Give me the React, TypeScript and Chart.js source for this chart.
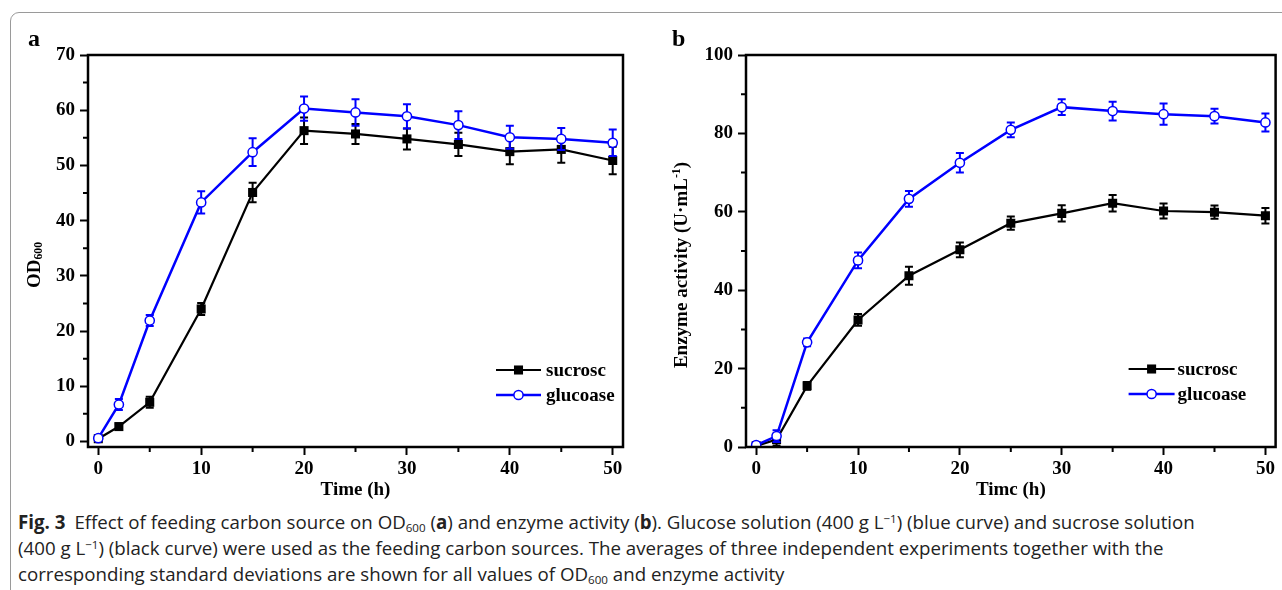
import React, { useEffect, useRef } from 'react';
import { Chart, registerables } from 'chart.js';

Chart.register(...registerables);

// ---------- data ----------
const TIME_H = [0, 2, 5, 10, 15, 20, 25, 30, 35, 40, 45, 50];

const OD_SUCROSE = [0.5, 2.7, 7.1, 24.0, 45.1, 56.3, 55.7, 54.8, 53.8, 52.5, 52.9, 50.9];
const OD_SUCROSE_SD = [0.3, 0.5, 1.0, 1.1, 1.75, 2.4, 1.8, 1.9, 2.1, 2.3, 2.4, 2.5];
const OD_GLUCOSE = [0.6, 6.7, 21.9, 43.3, 52.4, 60.3, 59.6, 58.9, 57.3, 55.1, 54.8, 54.1];
const OD_GLUCOSE_SD = [0.3, 1.0, 1.0, 2.0, 2.5, 2.2, 2.4, 2.2, 2.5, 2.1, 2.0, 2.4];

const ENZ_SUCROSE = [0.3, 1.9, 15.6, 32.4, 43.7, 50.3, 57.1, 59.6, 62.2, 60.2, 59.9, 59.0];
const ENZ_SUCROSE_SD = [0.3, 1.5, 1.0, 1.5, 2.3, 1.9, 1.7, 2.1, 2.1, 1.9, 1.7, 2.0];
const ENZ_GLUCOSE = [0.5, 2.8, 26.7, 47.6, 63.3, 72.5, 80.9, 86.7, 85.7, 84.9, 84.4, 82.8];
const ENZ_GLUCOSE_SD = [0.3, 1.5, 1.0, 2.0, 2.0, 2.5, 1.9, 2.0, 2.4, 2.7, 1.9, 2.3];

const LEGEND_LABELS_A = ['sucrosc', 'glucoase'];
const LEGEND_LABELS_B = ['sucrosc', 'glucoase'];
const X_TITLE_A = 'Time (h)';
const X_TITLE_B = 'Timc (h)';

const X_TICKS = [0, 10, 20, 30, 40, 50];
const X_MINOR_TICKS = [5, 15, 25, 35, 45];
const OD_Y_TICKS = [0, 10, 20, 30, 40, 50, 60, 70];
const OD_Y_MINOR_TICKS = [5, 15, 25, 35, 45, 55, 65];
const ENZ_Y_TICKS = [0, 20, 40, 60, 80, 100];
const ENZ_Y_MINOR_TICKS = [10, 30, 50, 70, 90];

// ---------- styles ----------
const SERIF = '"Liberation Serif", "Times New Roman", serif';
const BLUE = '#0000ff';
const BLACK = '#000000';

const errorBarPlugin = {
  id: 'errorBars',
  beforeDatasetDraw(chart: any, args: any) {
    const ds: any = chart.data.datasets[args.index];
    const errs: number[] = ds.errors;
    if (!errs) return;
    const yScale = chart.scales.y;
    const ctx = chart.ctx;
    ctx.save();
    ctx.strokeStyle = ds.borderColor;
    ctx.lineWidth = 2;
    args.meta.data.forEach((pt: any, i: number) => {
      const v = ds.data[i].y;
      const e = errs[i];
      const yt = yScale.getPixelForValue(v + e);
      const yb = yScale.getPixelForValue(v - e);
      ctx.beginPath();
      ctx.moveTo(pt.x, yt);
      ctx.lineTo(pt.x, yb);
      ctx.moveTo(pt.x - 4, yt);
      ctx.lineTo(pt.x + 4, yt);
      ctx.moveTo(pt.x - 4, yb);
      ctx.lineTo(pt.x + 4, yb);
      ctx.stroke();
    });
    ctx.restore();
  },
};

const framePlugin = {
  id: 'frame',
  afterDraw(chart: any, _args: any, opts: any) {
    const { ctx, chartArea } = chart;
    const { left, top, right, bottom } = chartArea;
    const xs = chart.scales.x;
    const ys = chart.scales.y;
    ctx.save();
    ctx.strokeStyle = '#000';
    ctx.lineWidth = 2.5;
    ctx.strokeRect(left, top, right - left, bottom - top);
    ctx.lineWidth = 2;
    ctx.beginPath();
    (opts.xMinor || []).forEach((v: number) => {
      const px = xs.getPixelForValue(v);
      ctx.moveTo(px, bottom);
      ctx.lineTo(px, bottom + 5);
    });
    (opts.yMinor || []).forEach((v: number) => {
      const py = ys.getPixelForValue(v);
      ctx.moveTo(left, py);
      ctx.lineTo(left - 5, py);
    });
    ctx.stroke();
    ctx.restore();
  },
};

const refLegendPlugin = {
  id: 'refLegend',
  afterDraw(chart: any, _args: any, opts: any) {
    const { ctx, chartArea } = chart;
    const { right, bottom } = chartArea;
    ctx.save();
    chart.data.datasets.forEach((ds: any, i: number) => {
      const y = bottom - opts.fromBottom + i * opts.dy;
      const x0 = right - opts.lineStart;
      const x1 = right - opts.lineEnd;
      const xm = (x0 + x1) / 2;
      ctx.strokeStyle = ds.borderColor;
      ctx.lineWidth = ds.borderWidth;
      ctx.beginPath();
      ctx.moveTo(x0, y);
      ctx.lineTo(x1, y);
      ctx.stroke();
      if (ds.pointStyle === 'rect') {
        const s = ds.pointRadius * Math.SQRT1_2;
        ctx.fillStyle = ds.pointBackgroundColor;
        ctx.fillRect(xm - s, y - s, 2 * s, 2 * s);
      } else {
        ctx.beginPath();
        ctx.arc(xm, y, ds.pointRadius, 0, Math.PI * 2);
        ctx.fillStyle = ds.pointBackgroundColor;
        ctx.fill();
        ctx.lineWidth = ds.pointBorderWidth;
        ctx.strokeStyle = ds.pointBorderColor;
        ctx.stroke();
      }
      ctx.fillStyle = '#000';
      ctx.font = `bold 19px ${SERIF}`;
      ctx.textAlign = 'left';
      ctx.textBaseline = 'middle';
      ctx.fillText(opts.labels[i], right - opts.textFrom, y + 1);
    });
    ctx.restore();
  },
};

function points(ys: number[]) {
  return TIME_H.map((t, i) => ({ x: t, y: ys[i] }));
}

type PanelSpec = {
  sucrose: number[];
  sucroseSd: number[];
  glucose: number[];
  glucoseSd: number[];
  yMin: number;
  yMax: number;
  yTicks: number[];
  yMinor: number[];
  padLeft: number;
  padRight: number;
  xTitle: string;
  legend: any;
};

function makeConfig(p: PanelSpec): any {
  const tickFont = { family: SERIF, weight: 'bold', size: 19 };
  return {
    type: 'line',
    data: {
      datasets: [
        {
          label: 'sucrose',
          data: points(p.sucrose),
          errors: p.sucroseSd,
          borderColor: BLACK,
          backgroundColor: BLACK,
          borderWidth: 2.2,
          pointStyle: 'rect',
          pointRadius: 6.4,
          pointBackgroundColor: BLACK,
          pointBorderColor: BLACK,
          pointBorderWidth: 0,
          order: 1,
        },
        {
          label: 'glucose',
          data: points(p.glucose),
          errors: p.glucoseSd,
          borderColor: BLUE,
          backgroundColor: '#ffffff',
          borderWidth: 2.5,
          pointStyle: 'circle',
          pointRadius: 4.6,
          pointBackgroundColor: '#ffffff',
          pointBorderColor: BLUE,
          pointBorderWidth: 1.5,
          order: 0,
        },
      ],
    },
    options: {
      responsive: false,
      animation: false,
      events: [],
      layout: { padding: { left: p.padLeft, top: 55, right: p.padRight, bottom: 4 } },
      plugins: {
        legend: { display: false },
        tooltip: { enabled: false },
        frame: { xMinor: X_MINOR_TICKS, yMinor: p.yMinor },
        refLegend: p.legend,
      },
      scales: {
        x: {
          type: 'linear',
          min: -1,
          max: 51,
          afterBuildTicks: (s: any) => {
            s.ticks = X_TICKS.map((v) => ({ value: v }));
          },
          afterFit: (s: any) => {
            s.height = 54;
          },
          ticks: { font: tickFont, color: '#000', padding: 3, maxRotation: 0, autoSkip: false },
          grid: { drawOnChartArea: false, color: '#000', tickLength: 8, tickWidth: 2 },
          border: { display: false },
          title: { display: true, text: p.xTitle, font: tickFont, color: '#000', padding: 0 },
        },
        y: {
          type: 'linear',
          min: p.yMin,
          max: p.yMax,
          afterBuildTicks: (s: any) => {
            s.ticks = p.yTicks.map((v) => ({ value: v }));
          },
          afterFit: (s: any) => {
            s.width = 60;
          },
          ticks: { font: tickFont, color: '#000', padding: 5, autoSkip: false },
          grid: { drawOnChartArea: false, color: '#000', tickLength: 8, tickWidth: 2 },
          border: { display: false },
        },
      },
    },
    plugins: [errorBarPlugin, framePlugin, refLegendPlugin],
  };
}

export default function App() {
  const refA = useRef<HTMLCanvasElement>(null);
  const refB = useRef<HTMLCanvasElement>(null);

  useEffect(() => {
    const chartA = new Chart(
      refA.current as HTMLCanvasElement,
      makeConfig({
        sucrose: OD_SUCROSE,
        sucroseSd: OD_SUCROSE_SD,
        glucose: OD_GLUCOSE,
        glucoseSd: OD_GLUCOSE_SD,
        yMin: -1,
        yMax: 70,
        yTicks: OD_Y_TICKS,
        yMinor: OD_Y_MINOR_TICKS,
        padLeft: 28,
        padRight: 17,
        xTitle: X_TITLE_A,
        legend: { labels: LEGEND_LABELS_A, fromBottom: 77, dy: 25, lineStart: 127, lineEnd: 82, textFrom: 77 },
      })
    );
    const chartB = new Chart(
      refB.current as HTMLCanvasElement,
      makeConfig({
        sucrose: ENZ_SUCROSE,
        sucroseSd: ENZ_SUCROSE_SD,
        glucose: ENZ_GLUCOSE,
        glucoseSd: ENZ_GLUCOSE_SD,
        yMin: 0,
        yMax: 100,
        yTicks: ENZ_Y_TICKS,
        yMinor: ENZ_Y_MINOR_TICKS,
        padLeft: 46,
        padRight: 4,
        xTitle: X_TITLE_B,
        legend: { labels: LEGEND_LABELS_B, fromBottom: 78, dy: 25, lineStart: 147, lineEnd: 101, textFrom: 98 },
      })
    );
    return () => {
      chartA.destroy();
      chartB.destroy();
    };
  }, []);

  const serifBold: React.CSSProperties = {
    position: 'absolute',
    fontFamily: SERIF,
    fontWeight: 'bold',
    color: '#000',
    whiteSpace: 'nowrap',
    lineHeight: 1,
  };
  const captionLine: React.CSSProperties = {
    position: 'absolute',
    left: 18,
    fontFamily: '"Open Sans", "Noto Sans", sans-serif',
    fontSize: 18.7,
    lineHeight: '26px',
    color: '#222',
    whiteSpace: 'nowrap',
  };
  const sub: React.CSSProperties = { fontSize: '0.62em', verticalAlign: '-0.25em', lineHeight: 0 };
  const sup: React.CSSProperties = { fontSize: '0.62em', verticalAlign: '0.55em', lineHeight: 0 };

  return (
    <div
      style={{
        position: 'fixed',
        left: 0,
        top: 0,
        width: 1282,
        height: 590,
        overflow: 'hidden',
        background: '#ffffff',
      }}
    >
      <div
        style={{
          position: 'absolute',
          left: 10,
          top: 12,
          width: 1320,
          height: 640,
          border: '1px solid #9a9a9a',
          borderRadius: 9,
        }}
      />
      <canvas
        ref={refA}
        width={640}
        height={505}
        style={{ position: 'absolute', left: 0, top: 0, width: 640, height: 505 }}
      />
      <canvas
        ref={refB}
        width={642}
        height={505}
        style={{ position: 'absolute', left: 640, top: 0, width: 642, height: 505 }}
      />
      <div style={{ ...serifBold, left: 28, top: 26, fontSize: 24 }}>a</div>
      <div style={{ ...serifBold, left: 672, top: 26, fontSize: 24 }}>b</div>
      <div
        style={{
          ...serifBold,
          fontSize: 19,
          left: 33,
          top: 265,
          transform: 'translate(-50%, -50%) rotate(-90deg)',
        }}
      >
        OD<span style={sub}>600</span>
      </div>
      <div
        style={{
          ...serifBold,
          fontSize: 19,
          left: 680,
          top: 265,
          transform: 'translate(-50%, -50%) rotate(-90deg)',
        }}
      >
        Enzyme activity (U·mL<span style={sup}>-1</span>)
      </div>
      <div style={{ ...captionLine, top: 509 }}>
        <b style={{ marginRight: 9 }}>Fig. 3</b>Effect of feeding carbon source on OD<span style={sub}>600</span> (
        <b>a</b>) and enzyme activity (<b>b</b>). Glucose solution (400 g L<span style={sup}>−1</span>) (blue curve)
        and sucrose solution
      </div>
      <div style={{ ...captionLine, top: 535 }}>
        (400 g L<span style={sup}>−1</span>) (black curve) were used as the feeding carbon sources. The averages of
        three independent experiments together with the
      </div>
      <div style={{ ...captionLine, top: 561 }}>
        corresponding standard deviations are shown for all values of OD<span style={sub}>600</span> and enzyme
        activity
      </div>
    </div>
  );
}
